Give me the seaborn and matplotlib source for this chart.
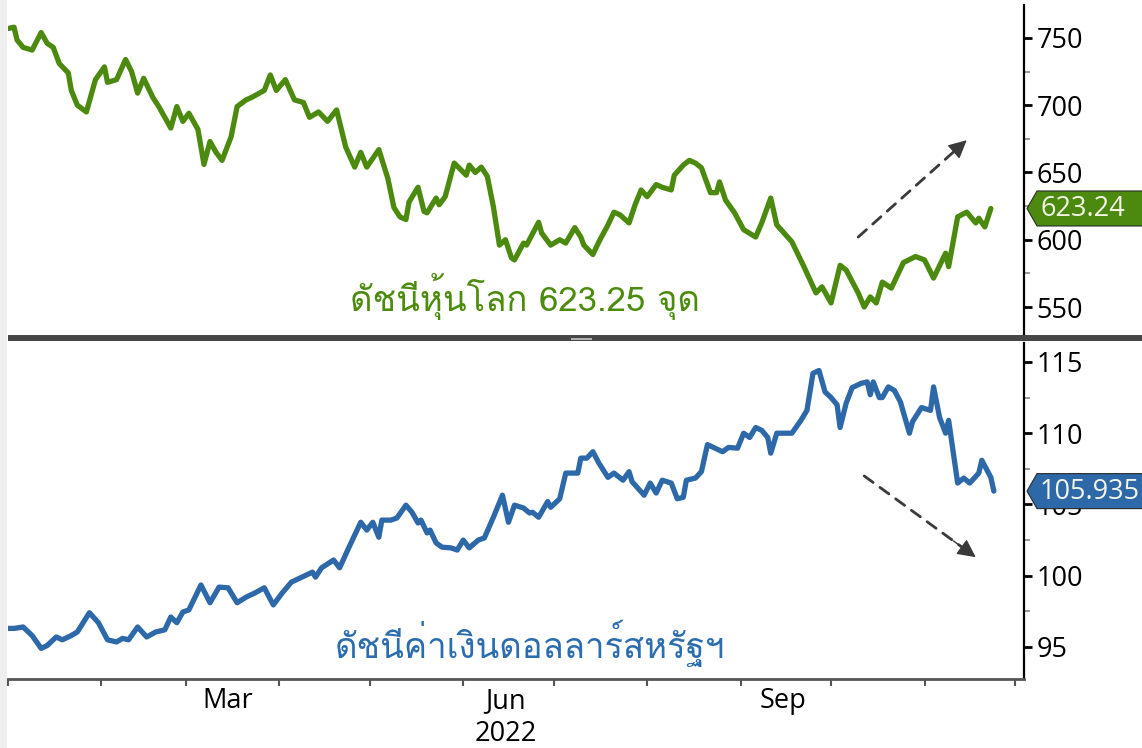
import matplotlib
matplotlib.use("Agg")
import pandas as pd
import matplotlib.pyplot as plt
from matplotlib import font_manager
from matplotlib.ft2font import FT2Font
from matplotlib.patches import Polygon, Rectangle
from matplotlib.transforms import IdentityTransform
import seaborn as sns

# ---- data (2022) --------------------------------------------------------
stock_dates = [
    "01-01", "01-03", "01-04", "01-06", "01-09", "01-12", "01-14", "01-16", "01-18", "01-21",
    "01-22", "01-24", "01-27", "01-30", "02-02", "02-03", "02-06", "02-09", "02-11", "02-13",
    "02-15", "02-18", "02-20", "02-24", "02-26", "02-28", "03-02", "03-05", "03-07", "03-09",
    "03-11", "03-13", "03-16", "03-18", "03-21", "03-23", "03-27", "03-29", "03-31", "04-03",
    "04-06", "04-09", "04-11", "04-14", "04-17", "04-20", "04-23", "04-26", "04-28", "04-30",
    "05-04", "05-07", "05-09", "05-11", "05-13", "05-14", "05-17", "05-19", "05-20", "05-23",
    "05-24", "05-26", "05-29", "06-02", "06-03", "06-05", "06-07", "06-09", "06-11", "06-13",
    "06-15", "06-17", "06-18", "06-21", "06-22", "06-26", "06-27", "06-30", "07-03", "07-05",
    "07-08", "07-10", "07-11", "07-14", "07-16", "07-19", "07-21", "07-23", "07-26", "07-28",
    "07-30", "08-01", "08-04", "08-06", "08-09", "08-10", "08-13", "08-15", "08-17", "08-19",
    "08-22", "08-24", "08-25", "08-27", "08-30", "09-02", "09-06", "09-08", "09-11", "09-13",
    "09-18", "09-22", "09-26", "09-28", "10-01", "10-04", "10-06", "10-10", "10-12", "10-14",
    "10-16", "10-18", "10-21", "10-25", "10-29", "11-01", "11-04", "11-08", "11-09", "11-12",
    "11-15", "11-18", "11-19", "11-21", "11-23",
]
stock_values = [
    757, 758, 748.5, 743, 741, 754, 746, 743, 731, 724,
    711, 700, 695, 719, 728.5, 717, 719, 734, 725, 709,
    720, 706, 699, 683, 699, 688, 694, 682, 656, 673,
    665, 659, 676.5, 699, 704, 706, 711, 722.5, 711, 719,
    704, 702, 691, 695, 688, 696.5, 669, 654, 665, 654,
    667, 645.5, 624, 617, 615, 628, 639, 621, 620, 631,
    626, 632, 657, 648, 655.5, 650, 654, 647, 624.5, 596,
    600, 586.5, 585, 597.5, 596, 613, 605, 596, 600, 597.5,
    609, 602, 596, 589, 598.5, 611, 620.5, 618.5, 612.5, 626,
    637, 632, 641, 639, 637, 648, 655.5, 659, 657, 653.5,
    635, 635, 643, 629.5, 620, 607.5, 602, 612.5, 631, 611,
    598.5, 580, 560.5, 565, 553, 581, 577.5, 560.5, 550, 557.5,
    553, 568.5, 564, 583, 587.5, 585, 571.5, 590, 580, 617,
    620.5, 612.5, 616, 609.5, 623.24,
]

usd_dates = [
    "01-01", "01-03", "01-06", "01-08", "01-09", "01-12", "01-14", "01-17", "01-19", "01-22",
    "01-24", "01-28", "01-31", "02-01", "02-03", "02-06", "02-08", "02-10", "02-13", "02-16",
    "02-19", "02-22", "02-24", "02-26", "02-28", "03-02", "03-06", "03-09", "03-12", "03-15",
    "03-18", "03-21", "03-24", "03-27", "03-30", "04-02", "04-05", "04-08", "04-12", "04-13",
    "04-15", "04-19", "04-21", "04-24", "04-28", "04-30", "05-02", "05-04", "05-05", "05-08",
    "05-10", "05-13", "05-15", "05-17", "05-18", "05-20", "05-21", "05-23", "05-25", "05-28",
    "05-30", "06-01", "06-03", "06-06", "06-08", "06-11", "06-14", "06-16", "06-18", "06-21",
    "06-23", "06-24", "06-26", "06-29", "06-30", "07-03", "07-05", "07-09", "07-10", "07-12",
    "07-14", "07-16", "07-19", "07-21", "07-24", "07-26", "07-27", "07-31", "08-02", "08-04",
    "08-06", "08-09", "08-11", "08-13", "08-14", "08-17", "08-19", "08-21", "08-23", "08-26",
    "08-28", "08-31", "09-02", "09-04", "09-06", "09-08", "09-10", "09-11", "09-13", "09-18",
    "09-21", "09-23", "09-25", "09-27", "09-29", "10-01", "10-03", "10-04", "10-06", "10-08",
    "10-11", "10-13", "10-14", "10-15", "10-17", "10-18", "10-20", "10-22", "10-24", "10-27",
    "10-28", "10-31", "11-03", "11-04", "11-06", "11-08", "11-09", "11-12", "11-14", "11-16",
    "11-19", "11-20", "11-23", "11-24",
]
usd_values = [
    96.3, 96.3, 96.4, 96.0, 95.8, 94.9, 95.1, 95.7, 95.5, 95.8,
    96.05, 97.4, 96.7, 96.3, 95.5, 95.35, 95.6, 95.5, 96.4, 95.7,
    96.05, 96.2, 97.1, 96.7, 97.45, 97.6, 99.35, 98.1, 99.2, 99.15,
    98.1, 98.5, 98.8, 99.15, 97.95, 98.8, 99.55, 99.85, 100.25, 99.9,
    100.55, 101.1, 100.55, 101.95, 103.75, 103.2, 103.75, 102.7, 103.9, 103.9,
    104.05, 104.95, 104.45, 103.7, 103.9, 103.0, 103.2, 102.3, 102.0, 101.95,
    101.8, 102.5, 101.95, 102.5, 102.65, 104.1, 105.65, 103.75, 104.95, 104.75,
    104.4, 104.45, 104.1, 105.2, 104.8, 105.4, 107.2, 107.2, 108.25, 108.25,
    108.7, 107.9, 106.9, 107.2, 106.7, 107.3, 106.6, 105.65, 106.5, 105.8,
    106.7, 106.5, 105.4, 105.5, 106.7, 106.85, 107.3, 109.2, 109.0, 108.7,
    109.0, 108.95, 110.0, 109.7, 110.4, 110.2, 109.7, 108.6, 110.0, 110.0,
    110.9, 111.6, 114.2, 114.4, 112.9, 112.5, 112.0, 110.4, 112.1, 113.2,
    113.5, 113.6, 112.7, 113.6, 112.5, 112.5, 113.25, 113.0, 112.2, 110.0,
    110.8, 111.8, 111.6, 113.25, 111.1, 110.0, 110.9, 106.5, 106.85, 106.5,
    107.2, 108.1, 106.9, 105.935,
]

stock_label = "ดัชนีหุ้นโลก 623.25 จุด"
usd_label = "ดัชนีค่าเงินดอลลาร์สหรัฐฯ"
stock_last = "623.24"
usd_last = "105.935"

stock_ticks = [550, 600, 650, 700, 750]
usd_ticks = [95, 100, 105, 110, 115]
month_labels = ["", "", "Mar", "", "", "Jun\n2022", "", "", "Sep", "", ""]

GREEN = "#4b8a0e"
BLUE = "#2d68a8"
W, H = 1142, 748


def find_thai_font():
    for f in font_manager.fontManager.ttflist:
        try:
            cmap = FT2Font(f.fname).get_charmap()
        except Exception:
            continue
        if 0x0E14 in cmap and 0x0E0A in cmap and 0x0E31 in cmap:
            return f.name
    return "DejaVu Sans"


sns.set_style("white")
plt.rcParams["font.family"] = ["Open Sans", "DejaVu Sans"]
thai = [find_thai_font(), "Open Sans", "DejaVu Sans"]

stocks = pd.DataFrame({"date": pd.to_datetime(["2022-" + d for d in stock_dates]),
                       "value": stock_values})
usd = pd.DataFrame({"date": pd.to_datetime(["2022-" + d for d in usd_dates]),
                    "value": usd_values})

fig = plt.figure(figsize=(W / 100, H / 100), dpi=100)
fig.patch.set_facecolor("white")
ax1 = fig.add_axes([8 / W, 1 - 337 / H, 1016 / W, 332 / H])
ax2 = fig.add_axes([8 / W, 1 - 679 / H, 1016 / W, 336 / H])

sns.lineplot(data=stocks, x="date", y="value", ax=ax1, color=GREEN, lw=3.8)
sns.lineplot(data=usd, x="date", y="value", ax=ax2, color=BLUE, lw=3.8)

xlim = (pd.Timestamp("2022-01-01"), pd.Timestamp("2022-12-04"))
month_starts = pd.date_range("2022-01-01", "2022-12-01", freq="MS")
mid_months = month_starts[:-1] + pd.Timedelta(days=14)

for ax, ticks, lim in [(ax1, stock_ticks, (527.7, 774.5)), (ax2, usd_ticks, (92.75, 116.33))]:
    ax.set(xlabel="", ylabel="")
    ax.yaxis.tick_right()
    step = ticks[1] - ticks[0]
    ax.set_yticks(ticks)
    ax.set_yticks([t + step / 2 for t in ticks[:-1]] + [ticks[0] - step / 2], minor=True)
    ax.tick_params(axis="y", which="major", direction="out", length=6, width=2,
                   pad=3, labelsize=19.5, colors="black", right=True, left=False)
    ax.tick_params(axis="y", which="minor", direction="out", length=4, width=1.2,
                   colors="#888888", right=True, left=False)
    for s in ["left", "top"]:
        ax.spines[s].set_visible(False)
    ax.spines["right"].set_color("black")
    ax.spines["right"].set_linewidth(1.6)
    ax.grid(False)

ax1.spines["bottom"].set_visible(False)
ax1.set_xticks([])

ax2.spines["bottom"].set_color("#555555")
ax2.spines["bottom"].set_linewidth(2)
ax2.set_xticks(month_starts, [""] * len(month_starts))
ax2.set_xticks(mid_months, month_labels, minor=True)
ax2.tick_params(axis="x", which="major", direction="out", length=5, width=1.5,
                colors="#555555", bottom=True)
ax2.tick_params(axis="x", which="minor", length=0, pad=6, labelsize=19.5,
                labelcolor="black")

# limits last, so the tick setters cannot widen them
ax1.set_xlim(xlim)
ax1.set_ylim(527.7, 774.5)
ax2.set_xlim(xlim)
ax2.set_ylim(92.75, 116.33)

# series names
ax1.text(0.509, 0.078, stock_label, transform=ax1.transAxes, ha="center",
         va="baseline", fontsize=25, color="#4c8c0c", family=thai)
ax2.text(0.514, 0.0625, usd_label, transform=ax2.transAxes, ha="center",
         va="baseline", fontsize=25, color="#2c6db0", family=thai)


# dashed trend arrows
def trend_arrow(ax, start, end):
    s = (pd.Timestamp(start[0]), start[1])
    e = (pd.Timestamp(end[0]), end[1])
    ax.annotate("", xy=e, xytext=s,
                arrowprops=dict(arrowstyle="-", color="#3a3a3a", lw=2,
                                linestyle=(0, (4, 3)), shrinkA=0, shrinkB=12))
    near = (s[0] + (e[0] - s[0]) * 0.8, s[1] + (e[1] - s[1]) * 0.8)
    ax.annotate("", xy=e, xytext=near,
                arrowprops=dict(arrowstyle="-|>", color="#3a3a3a", lw=1,
                                mutation_scale=28, shrinkA=0, shrinkB=0))


trend_arrow(ax1, ("2022-10-10", 602), ("2022-11-15", 674))
trend_arrow(ax2, ("2022-10-12", 107.0), ("2022-11-18", 101.3))


# last-value tags on the right axis
def value_tag(ax, value, text, color):
    y = ax.transData.transform((ax.get_xlim()[0], value))[1]
    x0 = ax.transAxes.transform((1, 0))[0] + 3
    h = 17.5
    pts = [(x0, y), (x0 + 10, y + h), (x0 + 250, y + h), (x0 + 250, y - h), (x0 + 10, y - h)]
    fig.add_artist(Polygon(pts, closed=True, transform=IdentityTransform(),
                           facecolor=color, edgecolor="#2a2a2a", lw=0.8, zorder=10))
    fig.text(x0 + 13, y - 1, text, transform=IdentityTransform(), ha="left",
             va="center", fontsize=19.5, color="#f4f4e4", zorder=11)


value_tag(ax1, float(stock_last), stock_last, GREEN)
value_tag(ax2, float(usd_last), usd_last, BLUE)

# panel separator and page edge
fig.add_artist(Rectangle((8 / W, 1 - 341 / H), 1134 / W, 6 / H, transform=fig.transFigure,
                         facecolor="#474747", edgecolor="none", zorder=8))
fig.add_artist(Rectangle((571 / W, 1 - 339.5 / H), 21 / W, 2 / H, transform=fig.transFigure,
                         facecolor="#b0b0b0", edgecolor="none", zorder=9))
fig.add_artist(Rectangle((0, 0), 7 / W, 1, transform=fig.transFigure,
                         facecolor="#eeeeee", edgecolor="none", zorder=0))

fig.savefig("out.png", dpi=100)
